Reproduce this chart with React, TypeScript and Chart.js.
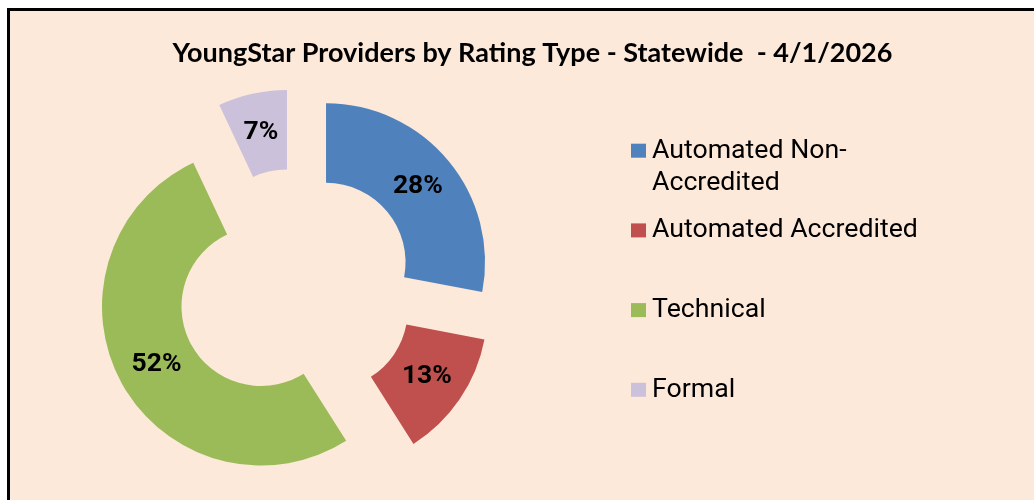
import React, { useEffect, useRef } from "react";
import { Chart, registerables } from "chart.js";

Chart.register(...registerables);

const TITLE = "YoungStar Providers by Rating Type - Statewide  - 4/1/2026";
const categories: string[][] = [
  ["Automated Non-", "Accredited"],
  ["Automated Accredited"],
  ["Technical"],
  ["Formal"],
];
const shares: number[] = [28, 13, 52, 7];
const colors: string[] = ["#4F81BD", "#C0504D", "#9BBB59", "#CCC1DA"];

const BG = "#FDE9D9";
const EXPLODE = 39.5;

const explodePlugin = {
  id: "explode",
  afterDatasetUpdate(chart: any, args: any) {
    const meta = args.meta;
    meta.data.forEach((arc: any) => {
      const mid = (arc.startAngle + arc.endAngle) / 2;
      arc.x += Math.cos(mid) * EXPLODE;
      arc.y += Math.sin(mid) * EXPLODE;
    });
  },
};

const labelsPlugin = {
  id: "sliceLabels",
  afterDatasetsDraw(chart: any) {
    const ctx = chart.ctx;
    const meta = chart.getDatasetMeta(0);
    const data = chart.data.datasets[0].data as number[];
    const total = data.reduce((a, b) => a + b, 0);
    ctx.save();
    ctx.font = "bold 26.5px Roboto";
    ctx.fillStyle = "#000";
    ctx.textAlign = "center";
    ctx.textBaseline = "middle";
    meta.data.forEach((arc: any, i: number) => {
      const p = arc.getCenterPoint();
      ctx.fillText(Math.round((data[i] / total) * 100) + "%", p.x, p.y);
    });
    ctx.restore();
  },
};

const titleLegendPlugin = {
  id: "titleLegend",
  afterDraw(chart: any) {
    const ctx = chart.ctx;
    ctx.save();
    ctx.fillStyle = "#000";
    ctx.font = "bold 27px Lato";
    ctx.textAlign = "center";
    ctx.textBaseline = "alphabetic";
    ctx.fillText(TITLE, 522.5, 50.7);

    ctx.font = "26.7px Roboto";
    ctx.textAlign = "left";
    const labels = chart.data.labels as string[][];
    const bgs = chart.data.datasets[0].backgroundColor as string[];
    labels.forEach((lines, i) => {
      const base = 146.7 + i * 79.7;
      ctx.fillStyle = bgs[i];
      ctx.fillRect(621, base - 14, 15, 14);
      ctx.fillStyle = "#000";
      lines.forEach((ln, j) => {
        ctx.fillText(ln, 642, base + j * 32.3);
      });
    });
    ctx.restore();
  },
};

export default function App() {
  const ref = useRef<HTMLCanvasElement | null>(null);
  useEffect(() => {
    if (!ref.current) return;
    const chart = new Chart(ref.current, {
      type: "doughnut",
      data: {
        labels: categories as any,
        datasets: [
          {
            data: shares,
            backgroundColor: colors,
            borderWidth: 0,
          },
        ],
      },
      options: {
        responsive: false,
        animation: false,
        radius: 159,
        cutout: "50%",
        layout: {
          padding: { left: 85.6, right: 538.4, top: 76.5, bottom: 12.5 },
        },
        plugins: {
          legend: { display: false },
          title: { display: false },
          tooltip: { enabled: false },
        },
      } as any,
      plugins: [explodePlugin, labelsPlugin, titleLegendPlugin],
    });
    return () => chart.destroy();
  }, []);

  return (
    <div
      style={{
        position: "fixed",
        left: 7,
        top: 8,
        width: 1040,
        height: 500,
        borderLeft: "3px solid #000",
        borderTop: "3px solid #000",
        background: BG,
        overflow: "hidden",
      }}
    >
      <canvas
        ref={ref}
        width={1024}
        height={489}
        style={{ display: "block", width: 1024, height: 489 }}
      />
    </div>
  );
}
